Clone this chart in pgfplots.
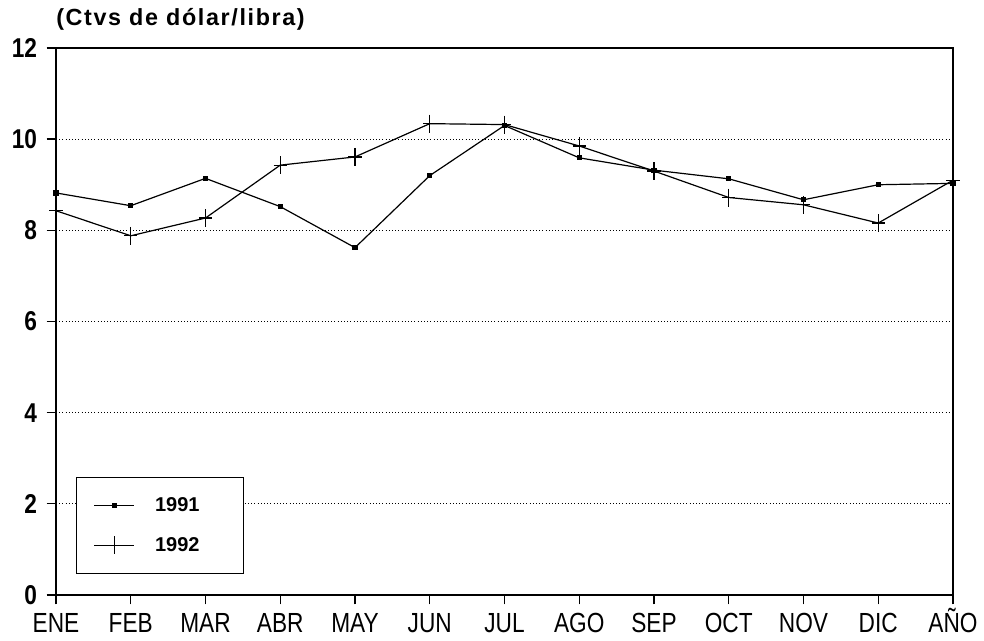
\documentclass[border=0pt]{standalone}
\usepackage{fontspec}
\setmainfont{Liberation Sans}
\newfontfamily\titlefont[LetterSpace=7]{Liberation Sans Bold}
\usepackage{pgfplots}
\pgfplotsset{compat=1.18}
\begin{document}
\begin{tikzpicture}
\begin{axis}[
  scale only axis,
  width=672.75pt, height=410.25pt,
  xmin=0, xmax=12, ymin=0, ymax=12,
  xtick={0,...,12},
  xticklabels={ENE,FEB,MAR,ABR,MAY,JUN,JUL,AGO,SEP,OCT,NOV,DIC,AÑO},
  ytick={0,2,...,12},
  xtick pos=bottom, ytick pos=left,
  xtick align=outside, ytick align=outside,
  major tick length=7pt,
  major tick style={black, line width=1pt},
  axis line style={line width=1pt},
  /pgf/number format/assume math mode=true,
  xticklabel style={font=\fontsize{17}{18}\selectfont, transform shape, yscale=1.22,
     anchor=north, text height=12pt, text depth=0pt, inner sep=0pt, yshift=-5pt},
  yticklabel style={font=\fontsize{17}{19}\selectfont\bfseries, transform shape, yscale=1.2,
     inner sep=0pt, xshift=-7pt},
  ymajorgrids,
  grid style={dotted, line width=0.9pt, black},
  title={\titlefont\fontsize{17.5}{19}\selectfont (Ctvs de dólar/libra)},
  title style={at={(0,1)}, anchor=base west, yshift=11pt, inner sep=0pt},
  legend style={at={(0.0223,0.0384)}, anchor=south west, draw=black, line width=0.8pt,
    inner xsep=13pt, inner ysep=12pt, row sep=12pt,
    font=\fontsize{15}{17}\selectfont\bfseries,
    nodes={text width=50pt, inner sep=3pt}, column sep=12pt},
  legend cell align=left,
  legend image code/.code={\draw[#1] (0pt,0pt) -- (30pt,0pt);
     \path[#1] plot[only marks] coordinates {(15pt,0pt)};},
]
\addplot[black, line width=0.9pt, mark=square*, mark size=1.5pt, mark options={solid}]
coordinates {
(0,8.82) (1,8.54) (2,9.14) (3,8.52) (4,7.62) (5,9.20) (6,10.30)
(7,9.59) (8,9.32) (9,9.13) (10,8.67) (11,9.00) (12,9.03)
};
\addlegendentry{1991}
\addplot[black, line width=0.9pt, mark=+, mark size=5pt, mark options={yscale=1.35, line width=0.9pt}]
coordinates {
(0,8.43) (1,7.88) (2,8.27) (3,9.43) (4,9.61) (5,10.34) (6,10.32)
(7,9.85) (8,9.30) (9,8.72) (10,8.56) (11,8.16) (12,9.10)
};
\addlegendentry{1992}
\end{axis}
\pgfresetboundingbox
\path ([shift={(-42pt,-34.5pt)}]current axis.south west) rectangle ([shift={(23.25pt,36pt)}]current axis.north east);
\end{tikzpicture}
\end{document}
